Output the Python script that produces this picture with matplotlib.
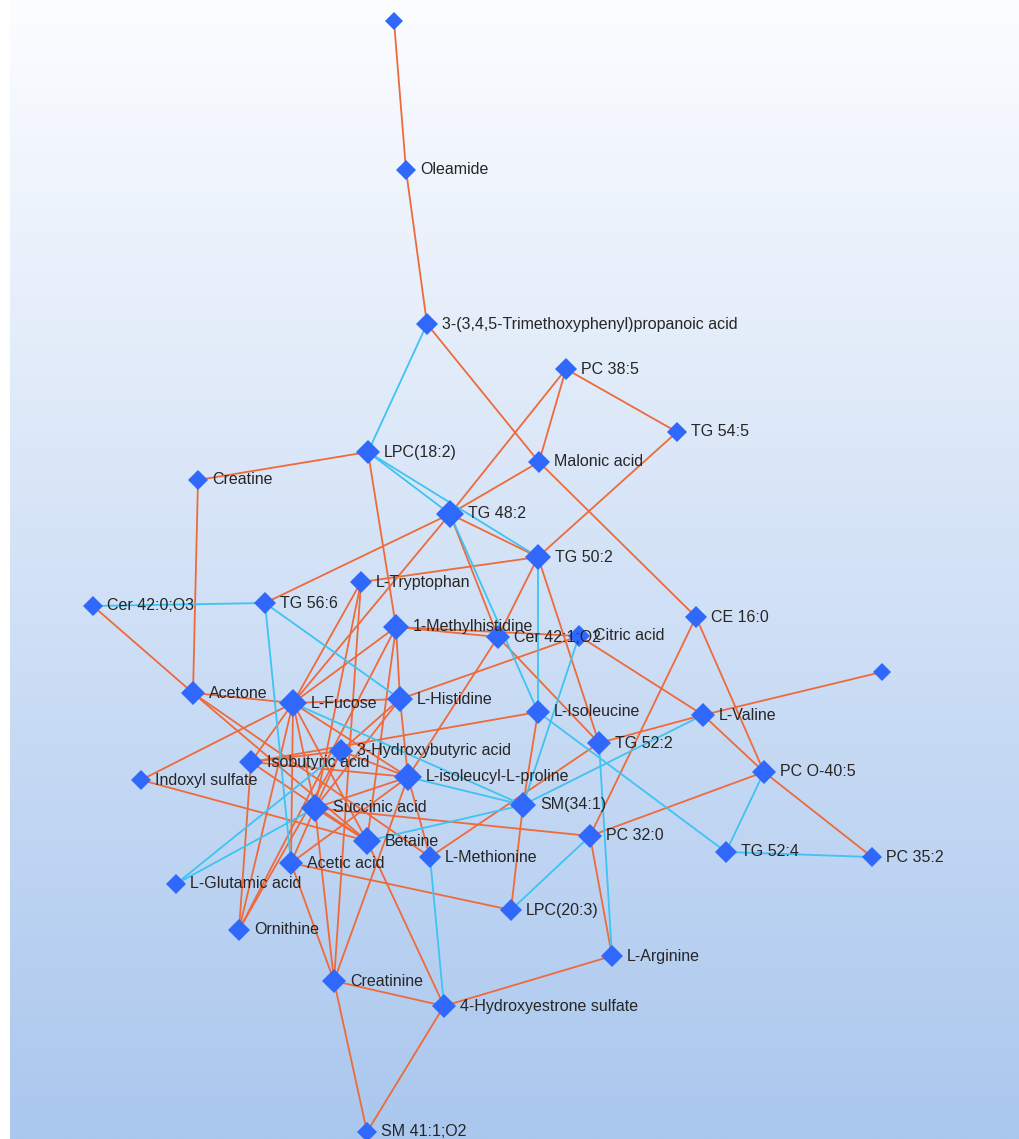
import numpy as np
import matplotlib
matplotlib.use("Agg")
import matplotlib.pyplot as plt
from matplotlib.collections import LineCollection

plt.rcParams["font.family"] = ["Liberation Sans", "DejaVu Sans"]

# ---- network data -------------------------------------------------------
node_ids = [
    "n_a", "Oleamide", "TMPPA", "PC 38:5", "TG 54:5", "LPC(18:2)",
    "Malonic acid", "Creatine", "TG 48:2", "TG 50:2", "L-Tryptophan",
    "Cer 42:0;O3", "TG 56:6", "CE 16:0", "1-Methylhistidine", "Cer 42:1;O2",
    "Citric acid", "n_b", "Acetone", "L-Fucose", "L-Histidine",
    "L-Isoleucine", "L-Valine", "TG 52:2", "3-Hydroxybutyric acid",
    "Isobutyric acid", "L-isoleucyl-L-proline", "PC O-40:5",
    "Indoxyl sulfate", "SM(34:1)", "Succinic acid", "PC 32:0", "Betaine",
    "L-Methionine", "Acetic acid", "TG 52:4", "PC 35:2", "L-Glutamic acid",
    "LPC(20:3)", "Ornithine", "L-Arginine", "Creatinine",
    "4-Hydroxyestrone sulfate", "SM 41:1;O2",
]
node_labels = [
    "", "Oleamide", "3-(3,4,5-Trimethoxyphenyl)propanoic acid", "PC 38:5",
    "TG 54:5", "LPC(18:2)", "Malonic acid", "Creatine", "TG 48:2", "TG 50:2",
    "L-Tryptophan", "Cer 42:0;O3", "TG 56:6", "CE 16:0", "1-Methylhistidine",
    "Cer 42:1;O2", "Citric acid", "", "Acetone", "L-Fucose", "L-Histidine",
    "L-Isoleucine", "L-Valine", "TG 52:2", "3-Hydroxybutyric acid",
    "Isobutyric acid", "L-isoleucyl-L-proline", "PC O-40:5",
    "Indoxyl sulfate", "SM(34:1)", "Succinic acid", "PC 32:0", "Betaine",
    "L-Methionine", "Acetic acid", "TG 52:4", "PC 35:2", "L-Glutamic acid",
    "LPC(20:3)", "Ornithine", "L-Arginine", "Creatinine",
    "4-Hydroxyestrone sulfate", "SM 41:1;O2",
]
# force-layout coordinates
node_x = [394, 406, 427, 566, 677, 368, 539, 198, 450, 538, 361, 93, 265, 696,
          396, 498, 579, 882, 193, 293, 400, 538, 703, 599, 341, 251, 408, 764,
          141, 523, 315, 590, 367, 430, 291, 726, 872, 176, 511, 239, 612, 334,
          444, 367]
node_y = [21, 170, 324, 369, 432, 452, 462, 480, 514, 557, 582, 606, 603, 617,
          627, 637, 636, 672, 693, 703, 699, 712, 715, 743, 751, 762, 777, 772,
          780, 805, 808, 836, 841, 857, 863, 852, 857, 884, 910, 930, 956, 981,
          1006, 1132]

# positive correlations
pos_edges = [
    ("n_a", "Oleamide"), ("Oleamide", "TMPPA"), ("TMPPA", "Malonic acid"),
    ("PC 38:5", "Malonic acid"), ("PC 38:5", "TG 54:5"), ("PC 38:5", "TG 48:2"),
    ("Malonic acid", "TG 48:2"), ("Malonic acid", "CE 16:0"),
    ("TG 54:5", "TG 50:2"), ("LPC(18:2)", "Creatine"),
    ("LPC(18:2)", "1-Methylhistidine"), ("Creatine", "Acetone"),
    ("TG 48:2", "TG 56:6"), ("TG 48:2", "L-Fucose"), ("TG 48:2", "TG 50:2"),
    ("TG 48:2", "Cer 42:1;O2"), ("TG 50:2", "L-Tryptophan"),
    ("TG 50:2", "Cer 42:1;O2"), ("TG 50:2", "TG 52:2"),
    ("Cer 42:1;O2", "L-isoleucyl-L-proline"), ("Cer 42:1;O2", "TG 52:2"),
    ("1-Methylhistidine", "Cer 42:1;O2"), ("1-Methylhistidine", "Citric acid"),
    ("Citric acid", "L-Valine"), ("Citric acid", "L-Histidine"),
    ("L-Valine", "PC O-40:5"), ("PC O-40:5", "PC 35:2"),
    ("CE 16:0", "PC O-40:5"), ("CE 16:0", "PC 32:0"), ("n_b", "L-Valine"),
    ("L-Valine", "TG 52:2"), ("TG 52:2", "L-Methionine"),
    ("PC 32:0", "PC O-40:5"), ("PC 32:0", "Succinic acid"),
    ("PC 32:0", "L-Arginine"), ("SM(34:1)", "LPC(20:3)"),
    ("SM(34:1)", "L-Isoleucine"), ("L-Isoleucine", "Isobutyric acid"),
    ("L-isoleucyl-L-proline", "L-Methionine"),
    ("L-Histidine", "L-isoleucyl-L-proline"), ("Cer 42:0;O3", "Acetone"),
    ("Acetone", "L-Fucose"), ("Acetone", "Betaine"), ("Acetone", "L-Methionine"),
    ("Indoxyl sulfate", "L-Fucose"), ("Indoxyl sulfate", "Betaine"),
    ("L-Fucose", "L-Histidine"), ("L-Fucose", "1-Methylhistidine"),
    ("L-Fucose", "Isobutyric acid"), ("L-Fucose", "Succinic acid"),
    ("L-Fucose", "Ornithine"), ("L-Fucose", "L-isoleucyl-L-proline"),
    ("L-Fucose", "Betaine"), ("L-Fucose", "Acetic acid"),
    ("L-Tryptophan", "L-Fucose"), ("L-Tryptophan", "Succinic acid"),
    ("L-Tryptophan", "Creatinine"), ("1-Methylhistidine", "L-Histidine"),
    ("1-Methylhistidine", "Betaine"), ("1-Methylhistidine", "Ornithine"),
    ("3-Hydroxybutyric acid", "Ornithine"),
    ("L-Histidine", "3-Hydroxybutyric acid"), ("L-Histidine", "Succinic acid"),
    ("Isobutyric acid", "3-Hydroxybutyric acid"),
    ("Isobutyric acid", "L-isoleucyl-L-proline"),
    ("Isobutyric acid", "Ornithine"), ("Isobutyric acid", "Betaine"),
    ("3-Hydroxybutyric acid", "L-isoleucyl-L-proline"),
    ("3-Hydroxybutyric acid", "Succinic acid"),
    ("Succinic acid", "L-isoleucyl-L-proline"), ("Succinic acid", "Betaine"),
    ("Succinic acid", "Acetic acid"), ("Succinic acid", "Creatinine"),
    ("Acetic acid", "L-isoleucyl-L-proline"), ("Acetic acid", "LPC(20:3)"),
    ("Acetic acid", "Creatinine"), ("L-isoleucyl-L-proline", "Creatinine"),
    ("Creatinine", "4-Hydroxyestrone sulfate"), ("Creatinine", "SM 41:1;O2"),
    ("4-Hydroxyestrone sulfate", "SM 41:1;O2"),
    ("4-Hydroxyestrone sulfate", "L-Arginine"),
    ("4-Hydroxyestrone sulfate", "Betaine"),
]
# negative correlations
neg_edges = [
    ("TMPPA", "LPC(18:2)"), ("LPC(18:2)", "TG 48:2"), ("LPC(18:2)", "TG 50:2"),
    ("TG 48:2", "L-Isoleucine"), ("TG 50:2", "L-Isoleucine"),
    ("Cer 42:0;O3", "TG 56:6"), ("TG 56:6", "Acetic acid"),
    ("TG 56:6", "L-Histidine"), ("L-Fucose", "SM(34:1)"),
    ("Citric acid", "SM(34:1)"), ("L-isoleucyl-L-proline", "SM(34:1)"),
    ("Betaine", "SM(34:1)"), ("SM(34:1)", "L-Valine"),
    ("L-Isoleucine", "TG 52:4"), ("TG 52:2", "L-Arginine"),
    ("PC 32:0", "LPC(20:3)"), ("L-Methionine", "4-Hydroxyestrone sulfate"),
    ("TG 52:4", "PC O-40:5"), ("TG 52:4", "PC 35:2"),
    ("L-Glutamic acid", "3-Hydroxybutyric acid"),
    ("L-Glutamic acid", "Succinic acid"),
]

POS_COLOR = "#ee6a3a"
NEG_COLOR = "#3ec3f2"
NODE_COLOR = "#2f68fb"
TEXT_COLOR = "#262626"

W, H, DPI = 1020, 1139, 100
fig = plt.figure(figsize=(W / DPI, H / DPI), dpi=DPI, facecolor="white")
ax = fig.add_axes([0, 0, 1, 1])
ax.set_xlim(0, W)
ax.set_ylim(H, 0)
ax.axis("off")

# vertical white-to-blue background
top = np.array([252, 253, 255]) / 255
bot = np.array([170, 199, 238]) / 255
t = np.linspace(0, 1, 256)[:, None]
grad = (top[None, :] * (1 - t) + bot[None, :] * t)[:, None, :]
ax.imshow(grad, extent=(10, W, H, 0), aspect="auto", zorder=0,
          interpolation="bilinear")

pos = {n: (x, y) for n, x, y in zip(node_ids, node_x, node_y)}
degree = {n: 0 for n in node_ids}
for a, b in pos_edges + neg_edges:
    degree[a] += 1
    degree[b] += 1

for edges, col in ((pos_edges, POS_COLOR), (neg_edges, NEG_COLOR)):
    segs = [[pos[a], pos[b]] for a, b in edges]
    ax.add_collection(LineCollection(segs, colors=col, linewidths=1.3,
                                     zorder=1))

for n, lab in zip(node_ids, node_labels):
    x, y = pos[n]
    ms = min(9.0 + 0.6 * degree[n], 14.5)
    ax.plot(x, y, marker="D", ms=ms, color=NODE_COLOR, mec=NODE_COLOR,
            mew=0, zorder=2)
    if lab:
        off_px = 0.98 * ms + 4
        ax.annotate(lab, (x, y), xytext=(off_px * 72 / DPI, 0),
                    textcoords="offset points", ha="left", va="center",
                    fontsize=11.5, color=TEXT_COLOR, zorder=3)

fig.savefig("out.png", dpi=DPI, facecolor="white")
